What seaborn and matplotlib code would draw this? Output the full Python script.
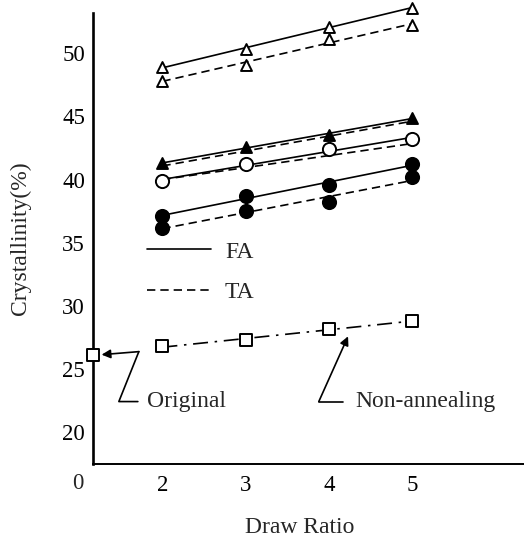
import matplotlib
matplotlib.use("Agg")
import matplotlib.pyplot as plt
from matplotlib.lines import Line2D
import seaborn as sns

# Crystallinity of drawn fibres versus draw ratio
draw_ratio = [2, 3, 4, 5]
x_ticks = [2, 3, 4, 5]
y_ticks = [20, 25, 30, 35, 40, 45, 50]

open_tri_fa = [48.9, 50.3, 52.1, 53.6]
open_tri_ta = [47.8, 49.1, 51.1, 52.2]
fill_tri_fa = [41.3, 42.6, 43.5, 44.9]
fill_tri_ta = [41.0, 42.4, 43.4, 44.6]
open_circ_fa = [39.9, 41.2, 42.4, 43.2]
open_circ_ta = [39.9, 41.1, 41.9, 42.8]
fill_circ_fa = [37.1, 38.7, 39.6, 41.2]
fill_circ_ta = [36.2, 37.5, 38.2, 40.2]
non_annealing = [26.8, 27.3, 28.2, 28.8]

original_ratio = 1.17
original_value = 26.1

sns.set_theme(style="white")
plt.rcParams["font.family"] = ["Liberation Serif", "DejaVu Serif"]

fig = plt.figure(figsize=(5.24, 5.40), dpi=100)
ax = fig.add_axes([0.178, 0.1407, 0.822, 0.8358])

solid = dict(ls="-")
dashed = dict(ls=(0, (5, 3)))
dashdot = dict(ls=(0, (9, 4, 1.5, 4)))

# (values, line style, marker, face colour); marker None = points hidden under FA markers
series = [
    (open_tri_fa, solid, "^", "white"),
    (open_tri_ta, dashed, "^", "white"),
    (fill_tri_fa, solid, "^", "black"),
    (fill_tri_ta, dashed, None, None),
    (open_circ_fa, solid, "o", "white"),
    (open_circ_ta, dashed, None, None),
    (fill_circ_fa, solid, "o", "black"),
    (fill_circ_ta, dashed, "o", "black"),
    (non_annealing, dashdot, "s", "white"),
]

sizes = {"^": 62, "o": 90, "s": 66}

for vals, style, marker, face in series:
    sns.regplot(x=draw_ratio, y=vals, ax=ax, scatter=False, ci=None,
                truncate=True, color="black",
                line_kws=dict(lw=1.2, zorder=2, clip_on=False, **style))
    if marker is not None:
        sns.scatterplot(x=draw_ratio, y=vals, ax=ax, marker=marker,
                        s=sizes[marker], color=face, edgecolor="black",
                        linewidth=1.4, zorder=3, legend=False, clip_on=False)

# undrawn sample on the axis
sns.scatterplot(x=[original_ratio], y=[original_value], ax=ax, marker="s",
                s=sizes["s"], color="white", edgecolor="black", linewidth=1.4,
                zorder=4, legend=False, clip_on=False)

ax.set_xlim(1.17, 6.34)
ax.set_ylim(17.5, 53.2)
ax.set_xticks(x_ticks)
ax.set_yticks(y_ticks)
ax.tick_params(axis="both", direction="in", length=5, width=1.3,
               labelsize=16.5, colors="black")
ax.tick_params(axis="x", pad=8)
ax.tick_params(axis="y", pad=6)
for side in ["top", "right"]:
    ax.spines[side].set_visible(False)
ax.spines["left"].set_linewidth(1.9)
ax.spines["bottom"].set_linewidth(1.4)
ax.spines["left"].set_color("black")
ax.spines["bottom"].set_color("black")

ax.text(-0.0355, -0.043, "0", transform=ax.transAxes, ha="center",
        va="center", fontsize=16.5)

ax.set_xlabel("Draw Ratio", fontsize=17)
ax.xaxis.set_label_coords(0.48, -0.118)
ax.set_ylabel("Crystallinity(%)", fontsize=17)
ax.yaxis.set_label_coords(-0.145, 0.5)

# legend for the annealing type
handles = [Line2D([], [], color="black", lw=1.2, **solid),
           Line2D([], [], color="black", lw=1.2, **dashed)]
ax.legend(handles, ["FA", "TA"], loc="upper left",
          bbox_to_anchor=(147 / 524, 1 - 241 / 540),
          bbox_transform=fig.transFigure, frameon=False, fontsize=17,
          handlelength=2.7, handletextpad=0.6, labelspacing=0.8,
          borderpad=0, borderaxespad=0)

arrow = dict(arrowstyle="-|>", color="black", lw=1.2, mutation_scale=13,
             shrinkA=0, shrinkB=0)

# "Original" leader
ax.plot([1.705, 1.477, 1.717], [22.44, 22.44, 26.39], color="black", lw=1.2)
ax.annotate("", xy=(original_ratio + 0.1, original_value + 0.05),
            xytext=(1.717, 26.39), arrowprops=arrow)
ax.text(1.81, 22.44, "Original", fontsize=17, ha="left", va="center")

# "Non-annealing" leader
ax.plot([4.165, 3.877], [22.44, 22.44], color="black", lw=1.2)
ax.annotate("", xy=(4.228, 27.6), xytext=(3.877, 22.44), arrowprops=arrow)
ax.text(4.32, 22.44, "Non-annealing", fontsize=17, ha="left", va="center")

fig.savefig("out.png", dpi=100)
